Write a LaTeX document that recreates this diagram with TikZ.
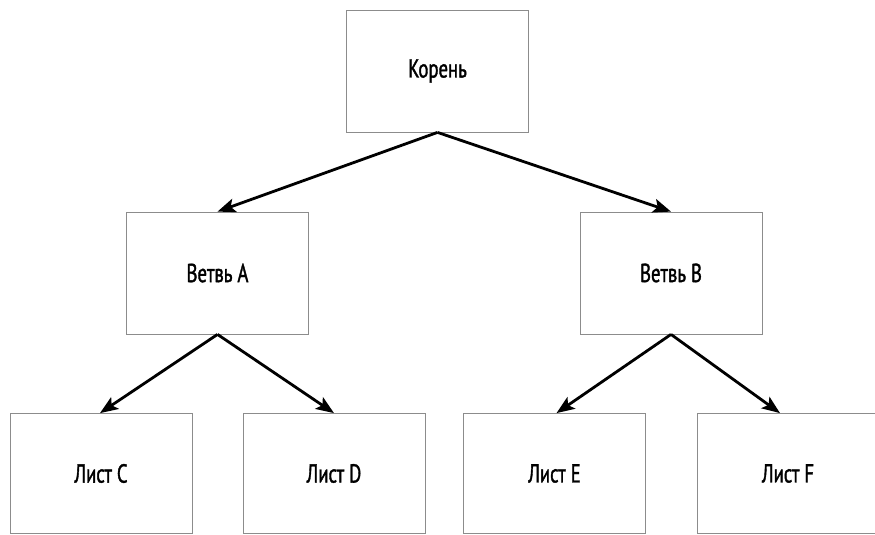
\documentclass[tikz,border=0pt]{standalone}
\usepackage{fontspec}
\setmainfont[FakeStretch=0.72,FakeBold=1.4]{PT Sans}
\usetikzlibrary{arrows.meta}
\tikzset{
  box/.style={draw=black!45, line width=0.8pt, fill=white,
    minimum width=182pt, minimum height=122pt, inner sep=0pt,
    font=\fontsize{26}{30}\selectfont},
  leafbox/.style={box, minimum height=120pt},
  link/.style={line width=2.8pt, -{Stealth[length=18pt,width=14pt,inset=4pt]}}
}
\begin{document}
\begin{tikzpicture}[x=1pt,y=-1pt]
  \useasboundingbox (0,0) rectangle (875,535);
  \clip (0,0) rectangle (875,535);
  % tree levels
  \node[box] (root) at (437.5,71) {Корень};
  \node[box] (ba) at (217.5,273) {Ветвь A};
  \node[box] (bb) at (671,273) {Ветвь B};
  \node[leafbox] (lc) at (101,473.5) {Лист C};
  \node[leafbox] (ld) at (334,473.5) {Лист D};
  \node[leafbox] (le) at (554.5,473.5) {Лист E};
  \node[leafbox] (lf) at (788,473.5) {Лист F};
  % connectors
  \draw[link] (root.south) -- (ba.north);
  \draw[link] (root.south) -- (bb.north);
  \draw[link] (ba.south) -- ([xshift=-1pt]lc.north);
  \draw[link] (ba.south) -- (ld.north);
  \draw[link] (bb.south) -- ([xshift=2pt]le.north);
  \draw[link] (bb.south) -- ([xshift=-8pt]lf.north);
\end{tikzpicture}
\end{document}
